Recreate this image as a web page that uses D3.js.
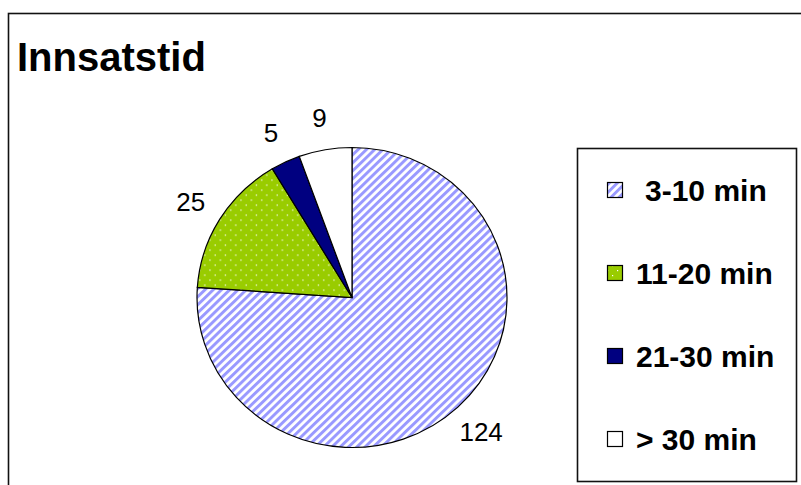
<!DOCTYPE html>
<html>
<head>
<meta charset="utf-8">
<script src="https://cdn.jsdelivr.net/npm/d3@7"></script>
<style>
  body { margin: 0; background: #fff; }
  svg { display: block; font-family: Arial, "Liberation Sans", sans-serif; }
</style>
</head>
<body>
<script>
var title = 'Innsatstid';
var categories = ['3-10 min', '11-20 min', '21-30 min', '> 30 min'];
var values = [124, 25, 5, 9];
var fills = ['url(#stripes)', 'url(#dots)', '#000080', '#ffffff'];

var width = 801, height = 485;
var cx = 352, cy = 297.5, r = 150, stretch = 155 / 150, labelR = 183;

var svg = d3.select(document.body).append('svg')
    .attr('width', width)
    .attr('height', height);

var defs = svg.append('defs');

var stripes = defs.append('pattern')
    .attr('id', 'stripes')
    .attr('patternUnits', 'userSpaceOnUse')
    .attr('width', 5.66).attr('height', 5.66)
    .attr('patternTransform', 'rotate(45)');
stripes.append('rect').attr('width', 5.66).attr('height', 5.66).attr('fill', '#fff');
stripes.append('rect').attr('width', 2.9).attr('height', 5.66).attr('fill', '#9999ff');

var dots = defs.append('pattern')
    .attr('id', 'dots')
    .attr('patternUnits', 'userSpaceOnUse')
    .attr('width', 10).attr('height', 10);
dots.append('rect').attr('width', 10).attr('height', 10).attr('fill', '#99cc00');
dots.append('rect').attr('x', 2).attr('y', 2).attr('width', 1.2).attr('height', 1.2).attr('fill', '#fff');
dots.append('rect').attr('x', 7).attr('y', 7).attr('width', 1.2).attr('height', 1.2).attr('fill', '#fff');

// outer frame (runs off the right and bottom edge)
svg.append('rect')
    .attr('x', 8.5).attr('y', 13.5)
    .attr('width', 820).attr('height', 500)
    .attr('fill', 'none')
    .attr('stroke', '#111')
    .attr('stroke-width', 1.6);

svg.append('text')
    .attr('x', 17).attr('y', 71)
    .attr('font-size', 40)
    .attr('font-weight', 'bold')
    .text(title);

var pie = d3.pie().sort(null).value(function(d) { return d; });
var arcs = pie(values);
var arc = d3.arc().innerRadius(0).outerRadius(r);
var labelArc = d3.arc().innerRadius(labelR).outerRadius(labelR);

var g = svg.append('g')
    .attr('transform', 'translate(' + cx + ',' + cy + ') scale(' + stretch + ',1)');

g.selectAll('path')
    .data(arcs)
    .enter().append('path')
    .attr('d', arc)
    .attr('fill', function(d, i) { return fills[i]; })
    .attr('stroke', '#000')
    .attr('stroke-width', 1.2)
    .attr('vector-effect', 'non-scaling-stroke');

svg.selectAll('text.lbl')
    .data(arcs)
    .enter().append('text')
    .attr('class', 'lbl')
    .attr('x', function(d) { return cx + labelArc.centroid(d)[0] * stretch; })
    .attr('y', function(d) { return cy + labelArc.centroid(d)[1]; })
    .attr('dy', '0.36em')
    .attr('text-anchor', 'middle')
    .attr('font-size', 26)
    .text(function(d) { return d.data; });

// legend
var legend = svg.append('g');
legend.append('rect')
    .attr('x', 577.5).attr('y', 148.5)
    .attr('width', 219).attr('height', 333)
    .attr('fill', '#fff')
    .attr('stroke', '#111')
    .attr('stroke-width', 1.6);

var y = d3.scalePoint().domain(categories).range([190, 439]);

var item = legend.selectAll('g.item')
    .data(categories)
    .enter().append('g')
    .attr('class', 'item')
    .attr('transform', function(d) { return 'translate(0,' + y(d) + ')'; });

item.append('rect')
    .attr('x', 607.5).attr('y', -7.5)
    .attr('width', 15).attr('height', 15)
    .attr('fill', function(d, i) { return fills[i]; })
    .attr('stroke', '#000')
    .attr('stroke-width', 1.2);

item.append('text')
    .attr('x', function(d, i) { return i === 0 ? 645 : 636; })
    .attr('dy', '0.36em')
    .attr('font-size', 30)
    .attr('font-weight', 'bold')
    .text(function(d) { return d; });
</script>
</body>
</html>
